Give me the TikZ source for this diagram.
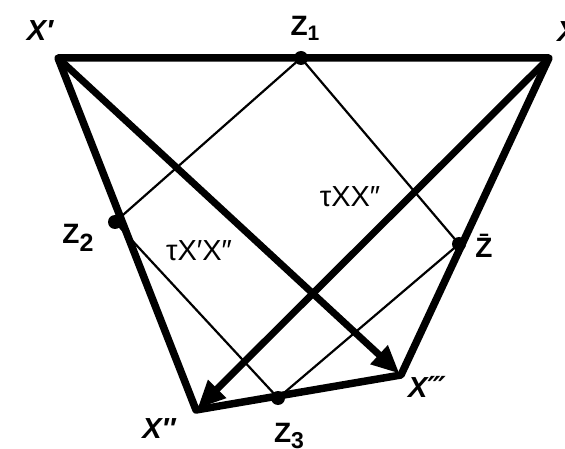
\documentclass[tikz,border=0pt]{standalone}
\usepackage{fontspec}
\setmainfont{Liberation Sans}
\newfontfamily\dv{DejaVu Sans}
\usetikzlibrary{arrows.meta}
\begin{document}
\begin{tikzpicture}[x=1pt,y=-1pt,
  thickline/.style={line width=7.5pt, line join=round, line cap=round},
  thinline/.style={line width=2.2pt},
  arrowline/.style={line width=7pt, -{Triangle[length=28pt,width=24pt]}, shorten >=2pt},
  dot/.style={circle, fill=black, inner sep=0pt, minimum size=14pt},
  vlab/.style={font=\fontsize{29}{29}\selectfont\bfseries\itshape, inner sep=0pt},
  zlab/.style={font=\fontsize{28}{28}\selectfont\bfseries, inner sep=0pt},
  tlab/.style={font=\fontsize{29}{29}\selectfont, inner sep=0pt}]
\useasboundingbox (0,0) rectangle (565,449);
\fill[white] (0,0) rectangle (565,449);
% vertices
\coordinate (Xp) at (58,58);
\coordinate (X) at (549,58);
\coordinate (Xpp) at (196,410);
\coordinate (Xppp) at (401,375);
% points on the sides
\node[dot] (Z1) at (301,58) {};
\node[dot] (Z2) at (115,222) {};
\node[dot] (Zb) at (459,244) {};
\node[dot] (Z3) at (278,398) {};
% thin parallelogram
\draw[thinline] (Z1.center) -- (Z2.center);
\draw[thinline] (Z1.center) -- (Zb.center);
\draw[thinline] (Z2.center) -- (Z3.center);
\draw[thinline] (Zb.center) -- (Z3.center);
% thick quadrilateral
\draw[thickline] (Xp) -- (X) -- (Xppp) -- (Xpp) -- cycle;
% diagonals
\draw[arrowline] (Xp) -- (Xppp);
\draw[arrowline] (X) -- (Xpp);
% labels
\node[vlab] (lXp) at (40,31) {X′};
\node[vlab] (lX) at (567,32) {X};
\node[vlab] (lXpp) at (159,429) {X″};
\node[vlab] (lXppp) at (427,387) {X{\dv ‴}};
\node[zlab] (lZ1) at (305,28) {Z\raisebox{-0.35ex}{\fontsize{21}{21}\selectfont 1}};
\node[zlab] (lZ2) at (78,238) {Z\raisebox{-0.55ex}{\fontsize{25}{25}\selectfont 2}};
\node[zlab] (lZ3) at (289,436) {Z\raisebox{-0.45ex}{\fontsize{23}{23}\selectfont 3}};
\node[zlab] (lZb) at (484,246) {\=Z};
\node[tlab] (t1) at (199,251) {τX′X″};
\node[tlab] (t2) at (350,197) {τXX″};
\end{tikzpicture}
\end{document}
